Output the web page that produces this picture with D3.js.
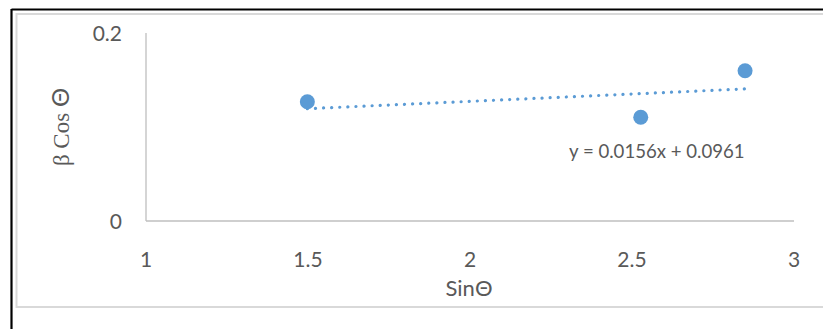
<!DOCTYPE html>
<html>
<head>
<meta charset="utf-8">
<script src="https://cdn.jsdelivr.net/npm/d3@7"></script>
<style>
  html, body { margin: 0; padding: 0; background: #fff; }
  svg { display: block; }
</style>
</head>
<body>
<svg id="chart" width="823" height="329"></svg>
<script>
// Measured points: sinθ against β·cosθ
const sinTheta = [1.498, 2.527, 2.849];
const betaCos = [0.1269, 0.1103, 0.1599];

// Linear trendline as reported on the chart
const slope = 0.0156;
const intercept = 0.0961;
const trendLabel = "y = 0.0156x + 0.0961";

const xTicks = [1, 1.5, 2, 2.5, 3];
const xTickLabels = ["1", "1.5", "2", "2.5", "3"];
const yTicks = [0, 0.2];
const yTickLabels = ["0", "0.2"];

const svg = d3.select("#chart");
const W = 823, H = 329;

// Outer frame
svg.append("line").attr("x1", 11.5).attr("y1", 9.5).attr("x2", W).attr("y2", 9.5)
  .attr("stroke", "#000").attr("stroke-width", 2.2);
svg.append("line").attr("x1", 11.5).attr("y1", 9).attr("x2", 11.5).attr("y2", H)
  .attr("stroke", "#000").attr("stroke-width", 2.2);

// Chart area border
svg.append("path")
  .attr("d", `M${W + 2},14 H16.5 V307 H${W + 2}`)
  .attr("fill", "none").attr("stroke", "#D9D9D9").attr("stroke-width", 2);

const x = d3.scaleLinear().domain([1, 3]).range([146, 794]);
const y = d3.scaleLinear().domain([0, 0.2]).range([221, 33]);

const font = "Lato, 'Open Sans', sans-serif";
const serif = "'Liberation Serif', 'DejaVu Serif', serif";
const textColor = "#595959";

// Axes lines
svg.append("line").attr("x1", x(1)).attr("x2", x(3)).attr("y1", y(0)).attr("y2", y(0))
  .attr("stroke", "#BFBFBF").attr("stroke-width", 1.3);
svg.append("line").attr("x1", x(1)).attr("x2", x(1)).attr("y1", y(0)).attr("y2", y(0.2))
  .attr("stroke", "#BFBFBF").attr("stroke-width", 1.3);

// Tick labels
svg.append("g").selectAll("text").data(xTicks).join("text")
  .attr("x", d => x(d)).attr("y", 267)
  .attr("text-anchor", "middle")
  .attr("font-family", font).attr("font-size", 21).attr("fill", textColor)
  .text((d, i) => xTickLabels[i]);

svg.append("g").selectAll("text").data(yTicks).join("text")
  .attr("x", 122).attr("y", d => y(d))
  .attr("dy", "0.36em")
  .attr("text-anchor", "end")
  .attr("font-family", font).attr("font-size", 21).attr("fill", textColor)
  .text((d, i) => yTickLabels[i]);

// Axis titles
svg.append("text")
  .attr("x", 469).attr("y", 296)
  .attr("text-anchor", "middle")
  .attr("font-family", font).attr("font-size", 22).attr("fill", textColor)
  .text("SinΘ");

const yTitle = svg.append("text")
  .attr("transform", "translate(69,127) rotate(-90)")
  .attr("text-anchor", "middle")
  .attr("font-family", serif)
  .attr("font-size", 23).attr("fill", textColor);
yTitle.append("tspan").text("β Cos ");
yTitle.append("tspan").attr("font-family", font).attr("font-size", 24).text("Θ");

// Trendline over the data range
const x0 = d3.min(sinTheta), x1 = d3.max(sinTheta);
const trend = [x0, x1].map(v => [v, slope * v + intercept]);
svg.append("path")
  .datum(trend)
  .attr("d", d3.line().x(d => x(d[0])).y(d => y(d[1])))
  .attr("fill", "none")
  .attr("stroke", "#5B9BD5")
  .attr("stroke-width", 3.2)
  .attr("stroke-linecap", "round")
  .attr("stroke-dasharray", "0.1 8");

// Data points
svg.append("g").selectAll("circle").data(sinTheta).join("circle")
  .attr("cx", d => x(d))
  .attr("cy", (d, i) => y(betaCos[i]))
  .attr("r", 7.5)
  .attr("fill", "#5B9BD5");

// Equation label
svg.append("text")
  .attr("x", 569).attr("y", 158)
  .attr("font-family", font).attr("font-size", 18.6).attr("fill", textColor)
  .text(trendLabel);
</script>
</body>
</html>
